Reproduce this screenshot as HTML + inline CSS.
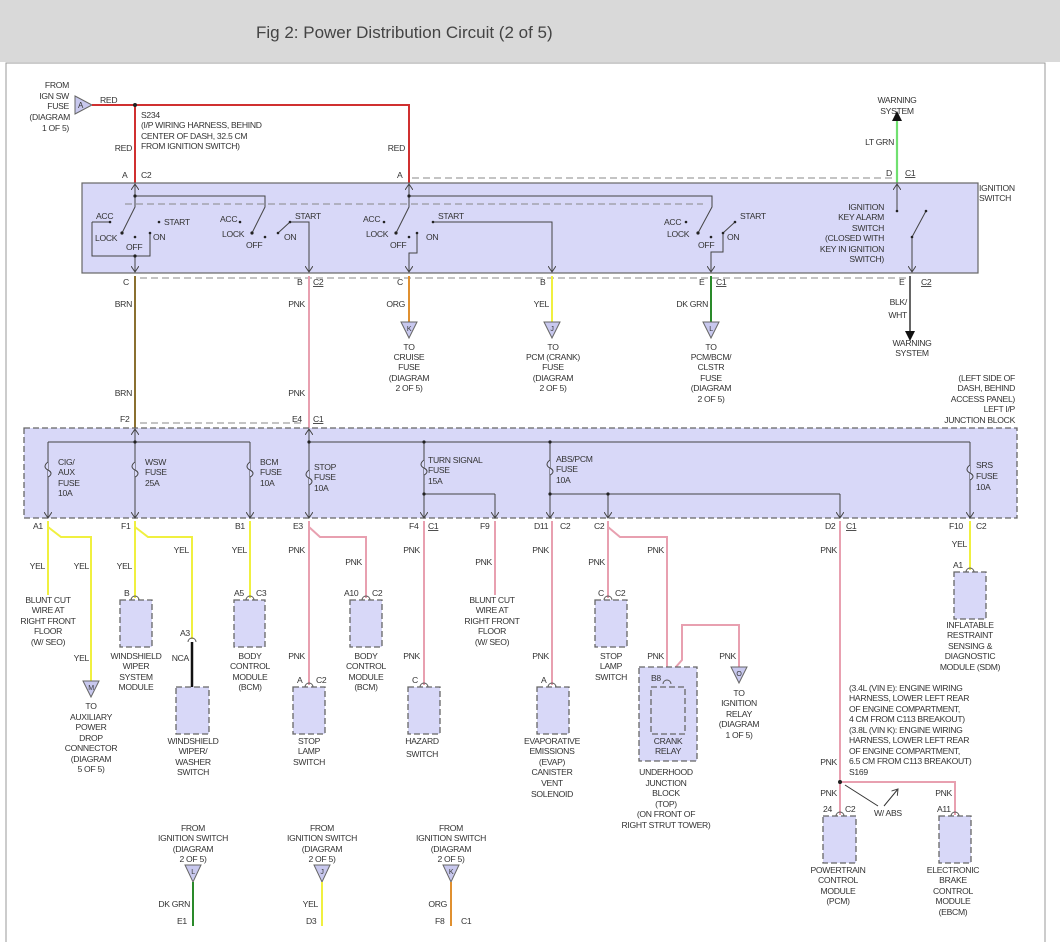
<!DOCTYPE html>
<html><head><meta charset="utf-8"><style>
html,body{margin:0;padding:0;background:#fff}
svg{display:block}
text{font-family:"Liberation Sans",sans-serif;font-size:8.6px;fill:#333;letter-spacing:-0.3px}
.t{font-size:17px;fill:#444;letter-spacing:0}
.m{text-anchor:middle}.e{text-anchor:end}
.sw{stroke:#444;stroke-width:1;fill:none}
.dash{stroke:#888;stroke-width:1;fill:none;stroke-dasharray:7,4}
.box{fill:#d8d8f8;stroke:#666;stroke-width:1.3;stroke-dasharray:6,3}
.tri{fill:#c8c8ee;stroke:#666;stroke-width:1}
.c{fill:none;stroke:#555;stroke-width:0.9}
</style></head><body>
<svg width="1060" height="942" viewBox="0 0 1060 942" xmlns="http://www.w3.org/2000/svg">
<defs>
<marker id="ah" markerWidth="8" markerHeight="8" refX="6" refY="4" orient="auto" markerUnits="userSpaceOnUse"><path d="M0,0 L6,4 L0,8" fill="none" stroke="#444" stroke-width="1"/></marker>
</defs>
<rect x="0" y="0" width="1060" height="62" fill="#d9d9d9"/>
<text class="t" x="256" y="38">Fig 2: Power Distribution Circuit (2 of 5)</text>
<rect x="6" y="63" width="1039" height="890" fill="#fff" stroke="#999" stroke-width="1"/>

<!-- top feed -->
<text class="e" x="69" y="88">FROM</text><text class="e" x="69" y="99">IGN SW</text><text class="e" x="69" y="109">FUSE</text><text class="e" x="70" y="120">(DIAGRAM</text><text class="e" x="69" y="131">1 OF 5)</text>
<path class="tri" d="M75,96 L92,105 L75,114 Z"/><text x="78" y="108" style="font-size:8px">A</text>
<path d="M92,105 H409 V183 M135,105 V183" stroke="#d03030" stroke-width="2" fill="none"/>
<circle cx="135" cy="105" r="2" fill="#222"/>
<text x="100" y="103">RED</text>
<text x="141" y="118">S234</text><text x="141" y="128">(I/P WIRING HARNESS, BEHIND</text><text x="141" y="139">CENTER OF DASH, 32.5 CM</text><text x="141" y="149">FROM IGNITION SWITCH)</text>
<text class="e" x="132" y="151">RED</text><text class="e" x="405" y="151">RED</text>
<text x="122" y="178">A</text><text x="141" y="178">C2</text><text x="397" y="178">A</text>
<path class="dash" d="M412,178 H892"/>
<text x="886" y="176">D</text><text x="905" y="176" text-decoration="underline">C1</text>
<path d="M897,120 V183" stroke="#70e070" stroke-width="2.2"/>
<path d="M892,121 L897,111 L902,121 Z" fill="#111"/>
<text class="m" x="897" y="103">WARNING</text><text class="m" x="897" y="114">SYSTEM</text>
<text class="e" x="894" y="145">LT GRN</text>

<!-- ignition switch -->
<rect x="82" y="183" width="896" height="90" fill="#d8d8f8" stroke="#666" stroke-width="1.2"/>
<text x="979" y="191">IGNITION</text><text x="979" y="201">SWITCH</text>
<path class="dash" d="M125,204 H703"/>
<g class="sw">
<path d="M135,196 V207 L122,233"/><path d="M135,196 H265 V207 L252,233"/>
<path d="M409,196 V207 L396,233"/><path d="M409,196 H712 V207 L698,233"/>
<path d="M135,196 V184" marker-end="url(#ah)"/><path d="M409,196 V184" marker-end="url(#ah)"/>
<path d="M92,222 H110 M92,222 V256 H150 V233"/><path d="M135,256 V272" marker-end="url(#ah)"/>
<path d="M278,233 L290,222 H309 V272" marker-end="url(#ah)"/>
<path d="M433,222 H552 V272" marker-end="url(#ah)"/>
<path d="M417,233 V253 H409 V272" marker-end="url(#ah)"/>
<path d="M723,233 L735,222 M723,233 V252 H711 V272" marker-end="url(#ah)"/>
<path d="M897,211 V184" marker-end="url(#ah)"/>
<path d="M912,237 L926,211 M912,237 V272" marker-end="url(#ah)"/>
</g>
<g fill="#222">
<circle cx="135" cy="196" r="1.6"/><circle cx="110" cy="222" r="1.3"/><circle cx="122" cy="233" r="1.6"/><circle cx="135" cy="237" r="1.3"/><circle cx="150" cy="233" r="1.3"/><circle cx="159" cy="222" r="1.3"/><circle cx="135" cy="256" r="1.6"/>
<circle cx="240" cy="222" r="1.3"/><circle cx="252" cy="233" r="1.6"/><circle cx="265" cy="237" r="1.3"/><circle cx="278" cy="233" r="1.3"/><circle cx="290" cy="222" r="1.3"/>
<circle cx="409" cy="196" r="1.6"/><circle cx="384" cy="222" r="1.3"/><circle cx="396" cy="233" r="1.6"/><circle cx="409" cy="237" r="1.3"/><circle cx="417" cy="233" r="1.3"/><circle cx="433" cy="222" r="1.3"/>
<circle cx="686" cy="222" r="1.3"/><circle cx="698" cy="233" r="1.6"/><circle cx="711" cy="237" r="1.3"/><circle cx="723" cy="233" r="1.3"/><circle cx="735" cy="222" r="1.3"/>
<circle cx="897" cy="211" r="1.3"/><circle cx="912" cy="237" r="1.3"/><circle cx="926" cy="211" r="1.3"/>
</g>
<text x="96" y="219">ACC</text><text x="95" y="241">LOCK</text><text x="126" y="250">OFF</text><text x="153" y="240">ON</text><text x="164" y="225">START</text>
<text x="220" y="222">ACC</text><text x="222" y="237">LOCK</text><text x="246" y="248">OFF</text><text x="284" y="240">ON</text><text x="295" y="219">START</text>
<text x="363" y="222">ACC</text><text x="366" y="237">LOCK</text><text x="390" y="248">OFF</text><text x="426" y="240">ON</text><text x="438" y="219">START</text>
<text x="664" y="225">ACC</text><text x="667" y="237">LOCK</text><text x="698" y="248">OFF</text><text x="727" y="240">ON</text><text x="740" y="219">START</text>
<text class="e" x="884" y="210">IGNITION</text><text class="e" x="884" y="220">KEY ALARM</text><text class="e" x="884" y="231">SWITCH</text><text class="e" x="884" y="241">(CLOSED WITH</text><text class="e" x="884" y="252">KEY IN IGNITION</text><text class="e" x="884" y="262">SWITCH)</text>

<!-- below switch -->
<path class="dash" d="M140,278 H906"/>
<text x="123" y="285">C</text><text x="297" y="285">B</text><text x="313" y="285" text-decoration="underline">C2</text><text x="397" y="285">C</text><text x="540" y="285">B</text><text x="699" y="285">E</text><text x="716" y="285" text-decoration="underline">C1</text><text x="899" y="285">E</text><text x="921" y="285" text-decoration="underline">C2</text>
<path d="M135,276 V428" stroke="#8a7030" stroke-width="2"/>
<path d="M309,276 V428" stroke="#e8a0b0" stroke-width="2"/>
<path d="M409,276 V322" stroke="#e09030" stroke-width="2"/>
<path d="M552,276 V322" stroke="#f0f040" stroke-width="2"/>
<path d="M711,276 V322" stroke="#2a8a2a" stroke-width="2"/>
<path d="M910,276 V332" stroke="#666" stroke-width="2"/><path d="M905,331 L910,341 L915,331 Z" fill="#111"/>
<text class="e" x="132" y="307">BRN</text><text class="e" x="132" y="396">BRN</text>
<text class="e" x="305" y="307">PNK</text><text class="e" x="305" y="396">PNK</text>
<text class="e" x="405" y="307">ORG</text><text class="e" x="549" y="307">YEL</text><text class="e" x="708" y="307">DK GRN</text>
<text class="e" x="907" y="305">BLK/</text><text class="e" x="907" y="318">WHT</text>
<text class="m" x="912" y="346">WARNING</text><text class="m" x="912" y="356">SYSTEM</text>
<path class="tri" d="M401,322 H417 L409,338 Z"/><text class="m" x="409" y="331" style="font-size:7px">K</text>
<path class="tri" d="M544,322 H560 L552,338 Z"/><text class="m" x="552" y="331" style="font-size:7px">J</text>
<path class="tri" d="M703,322 H719 L711,338 Z"/><text class="m" x="711" y="331" style="font-size:7px">L</text>
<g class="m"><text x="409" y="350">TO</text><text x="409" y="360">CRUISE</text><text x="409" y="370">FUSE</text><text x="409" y="381">(DIAGRAM</text><text x="409" y="391">2 OF 5)</text>
<text x="553" y="350">TO</text><text x="553" y="360">PCM (CRANK)</text><text x="553" y="370">FUSE</text><text x="553" y="381">(DIAGRAM</text><text x="553" y="391">2 OF 5)</text>
<text x="711" y="350">TO</text><text x="711" y="360">PCM/BCM/</text><text x="711" y="370">CLSTR</text><text x="711" y="381">FUSE</text><text x="711" y="391">(DIAGRAM</text><text x="711" y="402">2 OF 5)</text></g>
<g class="e"><text x="1015" y="381">(LEFT SIDE OF</text><text x="1015" y="391">DASH, BEHIND</text><text x="1015" y="402">ACCESS PANEL)</text><text x="1015" y="412">LEFT I/P</text><text x="1015" y="423">JUNCTION BLOCK</text></g>
<text x="120" y="422">F2</text><text x="292" y="422">E4</text><text x="313" y="422" text-decoration="underline">C1</text>
<path class="dash" d="M140,423 H304"/>

<!-- junction block -->
<rect x="24" y="428" width="993" height="90" class="box" stroke-dasharray="7,4"/>
<g class="sw">
<path d="M48,442 H250 M309,442 H970 M424,494 H495 M550,494 H840"/>
<path d="M135,442 V518" marker-end="url(#ah)"/><path d="M309,442 V518" marker-end="url(#ah)"/>
<path d="M135,442 V429" marker-end="url(#ah)"/><path d="M309,442 V429" marker-end="url(#ah)"/>
<path d="M48,442 V518" marker-end="url(#ah)"/><path d="M250,442 V518" marker-end="url(#ah)"/>
<path d="M424,442 V518" marker-end="url(#ah)"/><path d="M495,494 V518" marker-end="url(#ah)"/>
<path d="M550,442 V518" marker-end="url(#ah)"/><path d="M608,494 V518" marker-end="url(#ah)"/>
<path d="M840,494 V518" marker-end="url(#ah)"/><path d="M970,442 V518" marker-end="url(#ah)"/>
</g>
<g fill="#d8d8f8" stroke="#444" stroke-width="1">
<path d="M48,462 c-4,3 -4,6 0,8 c4,2 4,5 0,7" /><path d="M135,462 c-4,3 -4,6 0,8 c4,2 4,5 0,7"/><path d="M250,462 c-4,3 -4,6 0,8 c4,2 4,5 0,7"/><path d="M309,470 c-4,3 -4,6 0,8 c4,2 4,5 0,7"/><path d="M424,460 c-4,3 -4,6 0,8 c4,2 4,5 0,7"/><path d="M550,460 c-4,3 -4,6 0,8 c4,2 4,5 0,7"/><path d="M970,465 c-4,3 -4,6 0,8 c4,2 4,5 0,7"/>
</g>
<g fill="#222"><circle cx="135" cy="442" r="1.6"/><circle cx="309" cy="442" r="1.6"/><circle cx="424" cy="442" r="1.6"/><circle cx="550" cy="442" r="1.6"/><circle cx="424" cy="494" r="1.6"/><circle cx="550" cy="494" r="1.6"/><circle cx="608" cy="494" r="1.6"/></g>
<text x="58" y="465">CIG/</text><text x="58" y="475">AUX</text><text x="58" y="486">FUSE</text><text x="58" y="496">10A</text>
<text x="145" y="465">WSW</text><text x="145" y="475">FUSE</text><text x="145" y="486">25A</text>
<text x="260" y="465">BCM</text><text x="260" y="475">FUSE</text><text x="260" y="486">10A</text>
<text x="314" y="470">STOP</text><text x="314" y="480">FUSE</text><text x="314" y="491">10A</text>
<text x="428" y="463">TURN SIGNAL</text><text x="428" y="473">FUSE</text><text x="428" y="484">15A</text>
<text x="556" y="462">ABS/PCM</text><text x="556" y="472">FUSE</text><text x="556" y="483">10A</text>
<text x="976" y="468">SRS</text><text x="976" y="479">FUSE</text><text x="976" y="490">10A</text>

<!-- bottom connector labels -->
<text x="33" y="529">A1</text><text x="121" y="529">F1</text><text x="235" y="529">B1</text><text x="293" y="529">E3</text><text x="409" y="529">F4</text><text x="428" y="529" text-decoration="underline">C1</text><text x="480" y="529">F9</text><text x="534" y="529">D11</text><text x="560" y="529">C2</text><text x="594" y="529">C2</text><text x="825" y="529">D2</text><text x="846" y="529" text-decoration="underline">C1</text><text x="949" y="529">F10</text><text x="976" y="529">C2</text>

<!-- yellow wires -->
<g fill="none" stroke="#f0f040" stroke-width="2">
<path d="M48,521 V595 M48,527 L61,537 H91 V681"/>
<path d="M135,521 V598 M135,527 L148,537 H192 V639"/>
<path d="M250,521 V598"/><path d="M970,521 V570"/>
</g>
<g fill="none" stroke="#e8a0b0" stroke-width="2">
<path d="M309,521 V685 M309,527 L320,537 H366 V598"/>
<path d="M424,521 V685"/><path d="M495,521 V595"/><path d="M552,521 V685"/>
<path d="M608,521 V598 M608,527 L620,537 H667 V677 L682,660 V625 H739 V667"/>
<path d="M840,521 V815 M840,782 H955 V815"/>
</g>
<path d="M192,642 V687" stroke="#111" stroke-width="2.5"/>
<text class="e" x="45" y="569">YEL</text><text class="e" x="89" y="569">YEL</text><text class="e" x="89" y="661">YEL</text>
<text class="e" x="132" y="569">YEL</text><text class="e" x="189" y="553">YEL</text><text class="e" x="247" y="553">YEL</text><text class="e" x="967" y="547">YEL</text>
<text class="e" x="189" y="661">NCA</text>
<text class="e" x="305" y="553">PNK</text><text class="e" x="362" y="565">PNK</text><text class="e" x="305" y="659">PNK</text>
<text class="e" x="420" y="553">PNK</text><text class="e" x="420" y="659">PNK</text><text class="e" x="492" y="565">PNK</text>
<text class="e" x="549" y="553">PNK</text><text class="e" x="549" y="659">PNK</text>
<text class="e" x="605" y="565">PNK</text><text class="e" x="664" y="553">PNK</text><text class="e" x="664" y="659">PNK</text><text class="e" x="736" y="659">PNK</text>
<text class="e" x="837" y="553">PNK</text><text class="e" x="837" y="765">PNK</text><text class="e" x="837" y="796">PNK</text><text class="e" x="952" y="796">PNK</text>

<!-- modules -->
<rect class="box" x="120" y="600" width="32" height="47"/>
<rect class="box" x="176" y="687" width="33" height="47"/>
<rect class="box" x="234" y="600" width="31" height="47"/>
<rect class="box" x="350" y="600" width="32" height="47"/>
<rect class="box" x="293" y="687" width="32" height="47"/>
<rect class="box" x="408" y="687" width="32" height="47"/>
<rect class="box" x="537" y="687" width="32" height="47"/>
<rect class="box" x="595" y="600" width="32" height="47"/>
<rect class="box" x="639" y="667" width="58" height="94"/>
<rect class="box" x="651" y="687" width="34" height="47"/>
<rect class="box" x="954" y="572" width="32" height="47"/>
<rect class="box" x="823" y="816" width="33" height="47"/>
<rect class="box" x="939" y="816" width="32" height="47"/>
<g class="c">
<path d="M131,600 a4,4 0 0 1 8,0"/><path d="M188,642 a4,4 0 0 1 8,0"/><path d="M246,600 a4,4 0 0 1 8,0"/><path d="M362,600 a4,4 0 0 1 8,0"/><path d="M305,687 a4,4 0 0 1 8,0"/><path d="M420,687 a4,4 0 0 1 8,0"/><path d="M548,687 a4,4 0 0 1 8,0"/><path d="M604,600 a4,4 0 0 1 8,0"/><path d="M663,684 a4,4 0 0 1 8,0"/><path d="M966,572 a4,4 0 0 1 8,0"/><path d="M836,816 a4,4 0 0 1 8,0"/><path d="M951,816 a4,4 0 0 1 8,0"/>
</g>
<text x="124" y="596">B</text><text x="180" y="636">A3</text><text x="234" y="596">A5</text><text x="256" y="596">C3</text><text x="344" y="596">A10</text><text x="372" y="596">C2</text><text x="297" y="683">A</text><text x="316" y="683">C2</text><text x="412" y="683">C</text><text x="541" y="683">A</text><text x="598" y="596">C</text><text x="615" y="596">C2</text><text x="651" y="681">B8</text><text x="953" y="568">A1</text><text x="823" y="812">24</text><text x="845" y="812">C2</text><text x="937" y="812">A11</text>
<path class="tri" d="M83,681 H99 L91,697 Z"/><text class="m" x="91" y="690" style="font-size:7px">M</text>
<path class="tri" d="M731,667 H747 L739,683 Z"/><text class="m" x="739" y="676" style="font-size:7px">O</text>
<circle cx="840" cy="782" r="2" fill="#222"/>
<path d="M878,806 L845,785 M884,806 L898,789" stroke="#333" stroke-width="1" fill="none" marker-end="url(#ah)"/>
<text x="874" y="816">W/ ABS</text>
<g class="m">
<text x="48" y="603">BLUNT CUT</text><text x="48" y="613">WIRE AT</text><text x="48" y="624">RIGHT FRONT</text><text x="48" y="634">FLOOR</text><text x="48" y="645">(W/ SEO)</text>
<text x="91" y="709">TO</text><text x="91" y="720">AUXILIARY</text><text x="91" y="730">POWER</text><text x="91" y="741">DROP</text><text x="91" y="751">CONNECTOR</text><text x="91" y="762">(DIAGRAM</text><text x="91" y="772">5 OF 5)</text>
<text x="136" y="659">WINDSHIELD</text><text x="136" y="669">WIPER</text><text x="136" y="680">SYSTEM</text><text x="136" y="690">MODULE</text>
<text x="193" y="744">WINDSHIELD</text><text x="193" y="754">WIPER/</text><text x="193" y="765">WASHER</text><text x="193" y="775">SWITCH</text>
<text x="250" y="659">BODY</text><text x="250" y="669">CONTROL</text><text x="250" y="680">MODULE</text><text x="250" y="690">(BCM)</text>
<text x="366" y="659">BODY</text><text x="366" y="669">CONTROL</text><text x="366" y="680">MODULE</text><text x="366" y="690">(BCM)</text>
<text x="309" y="744">STOP</text><text x="309" y="754">LAMP</text><text x="309" y="765">SWITCH</text>
<text x="422" y="744">HAZARD</text><text x="422" y="757">SWITCH</text>
<text x="492" y="603">BLUNT CUT</text><text x="492" y="613">WIRE AT</text><text x="492" y="624">RIGHT FRONT</text><text x="492" y="634">FLOOR</text><text x="492" y="645">(W/ SEO)</text>
<text x="552" y="744">EVAPORATIVE</text><text x="552" y="754">EMISSIONS</text><text x="552" y="765">(EVAP)</text><text x="552" y="775">CANISTER</text><text x="552" y="786">VENT</text><text x="552" y="797">SOLENOID</text>
<text x="611" y="659">STOP</text><text x="611" y="669">LAMP</text><text x="611" y="680">SWITCH</text>
<text x="668" y="744">CRANK</text><text x="668" y="754">RELAY</text>
<text x="666" y="775">UNDERHOOD</text><text x="666" y="786">JUNCTION</text><text x="666" y="796">BLOCK</text><text x="666" y="807">(TOP)</text><text x="666" y="817">(ON FRONT OF</text><text x="666" y="828">RIGHT STRUT TOWER)</text>
<text x="739" y="696">TO</text><text x="739" y="706">IGNITION</text><text x="739" y="717">RELAY</text><text x="739" y="727">(DIAGRAM</text><text x="739" y="738">1 OF 5)</text>
<text x="970" y="628">INFLATABLE</text><text x="970" y="638">RESTRAINT</text><text x="970" y="649">SENSING &amp;</text><text x="970" y="659">DIAGNOSTIC</text><text x="970" y="670">MODULE (SDM)</text>
<text x="838" y="873">POWERTRAIN</text><text x="838" y="883">CONTROL</text><text x="838" y="894">MODULE</text><text x="838" y="904">(PCM)</text>
<text x="953" y="873">ELECTRONIC</text><text x="953" y="883">BRAKE</text><text x="953" y="894">CONTROL</text><text x="953" y="904">MODULE</text><text x="953" y="915">(EBCM)</text>
</g>
<text x="849" y="691">(3.4L (VIN E): ENGINE WIRING</text><text x="849" y="701">HARNESS, LOWER LEFT REAR</text><text x="849" y="712">OF ENGINE COMPARTMENT,</text><text x="849" y="722">4 CM FROM C113 BREAKOUT)</text><text x="849" y="733">(3.8L (VIN K): ENGINE WIRING</text><text x="849" y="743">HARNESS, LOWER LEFT REAR</text><text x="849" y="754">OF ENGINE COMPARTMENT,</text><text x="849" y="764">6.5 CM FROM C113 BREAKOUT)</text><text x="849" y="775">S169</text>

<!-- bottom feeds -->
<g class="m">
<text x="193" y="831">FROM</text><text x="193" y="841">IGNITION SWITCH</text><text x="193" y="852">(DIAGRAM</text><text x="193" y="862">2 OF 5)</text>
<text x="322" y="831">FROM</text><text x="322" y="841">IGNITION SWITCH</text><text x="322" y="852">(DIAGRAM</text><text x="322" y="862">2 OF 5)</text>
<text x="451" y="831">FROM</text><text x="451" y="841">IGNITION SWITCH</text><text x="451" y="852">(DIAGRAM</text><text x="451" y="862">2 OF 5)</text>
</g>
<path class="tri" d="M185,865 H201 L193,882 Z"/><text class="m" x="193" y="874" style="font-size:7px">L</text>
<path class="tri" d="M314,865 H330 L322,882 Z"/><text class="m" x="322" y="874" style="font-size:7px">J</text>
<path class="tri" d="M443,865 H459 L451,882 Z"/><text class="m" x="451" y="874" style="font-size:7px">K</text>
<path d="M193,882 V926" stroke="#2a8a2a" stroke-width="2"/>
<path d="M322,882 V926" stroke="#f0f040" stroke-width="2"/>
<path d="M451,882 V926" stroke="#e09030" stroke-width="2"/>
<text class="e" x="190" y="907">DK GRN</text><text class="e" x="318" y="907">YEL</text><text class="e" x="447" y="907">ORG</text>
<text x="177" y="924">E1</text><text x="306" y="924">D3</text><text x="435" y="924">F8</text><text x="461" y="924">C1</text>
</svg>
</body></html>
